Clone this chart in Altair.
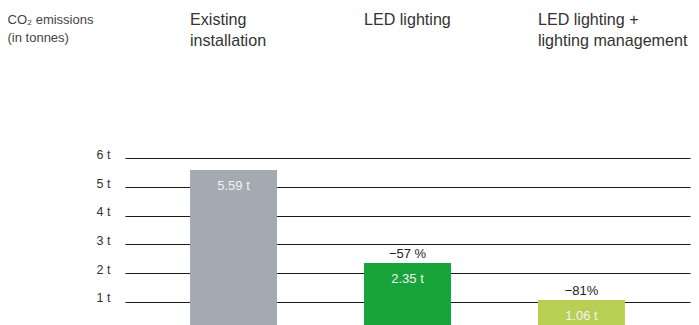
import altair as alt
import pandas as pd

categories = ["Existing|installation", "LED lighting", "LED lighting +|lighting management"]
values = [5.59, 2.35, 1.06]
value_labels = ["5.59 t", "2.35 t", "1.06 t"]
change_labels = ["", "−57 %", "−81%"]
colors = ["#a3aab1", "#17a53b", "#b9cf54"]
y_ticks = [1, 2, 3, 4, 5, 6]
y_title = ["CO₂ emissions", "(in tonnes)"]

df = pd.DataFrame({
    "cat": categories,
    "value": values,
    "vlabel": value_labels,
    "change": change_labels,
    "color": colors,
})

FONT = "Liberation Sans"

x = alt.X(
    "cat:N",
    sort=categories,
    scale=alt.Scale(paddingInner=0.5, paddingOuter=0.374),
    axis=alt.Axis(
        orient="top", title=None, domain=False, ticks=False, labelAngle=0,
        labelAlign="left", labelBaseline="top", labelOffset=-43.5,
        labelPadding=90, labelExpr="split(datum.label, '|')",
        labelFontSize=16.1, labelLineHeight=21, labelColor="#333",
        labelFont=FONT, labelLimit=400, labelOverlap=False, labelBound=False,
    ),
)

y = alt.Y(
    "value:Q",
    scale=alt.Scale(domain=[0.19, 8], nice=False, zero=False),
    axis=alt.Axis(
        values=y_ticks, labelExpr="datum.value + ' t'", grid=True,
        gridColor="#1a1a1a", gridWidth=1.1, domain=False, ticks=False,
        labelPadding=15, labelOffset=-4, labelFontSize=12.5, labelColor="#333", labelFont=FONT,
        title=y_title, titleAngle=0, titleAlign="left", titleBaseline="alphabetic",
        titleX=-118, titleY=-78, titleFontSize=13, titleFontWeight="normal",
        titleColor="#444", titleLineHeight=18, titleFont=FONT,
    ),
)

base = alt.Chart(df)

bars = base.mark_bar(clip=True).encode(
    x=x, y=y, y2=alt.datum(0), color=alt.Color("color:N", scale=None)
)

inner = base.mark_text(dy=16, baseline="middle", color="#f2f2f2", fontSize=13, font=FONT).encode(
    x=x, y="value:Q", text="vlabel:N"
)

above = base.mark_text(dy=-9, baseline="middle", color="#222", fontSize=13, font=FONT).encode(
    x=x, y="value:Q", text="change:N"
)

chart = alt.layer(bars, inner, above).properties(
    width=565, height=224,
    autosize=alt.AutoSizeParams(type="none"),
    padding={"left": 117, "top": 93, "right": 1, "bottom": 0},
).configure_view(stroke=None)

chart.save("out.html", embed_options={"renderer": "svg", "actions": False})
